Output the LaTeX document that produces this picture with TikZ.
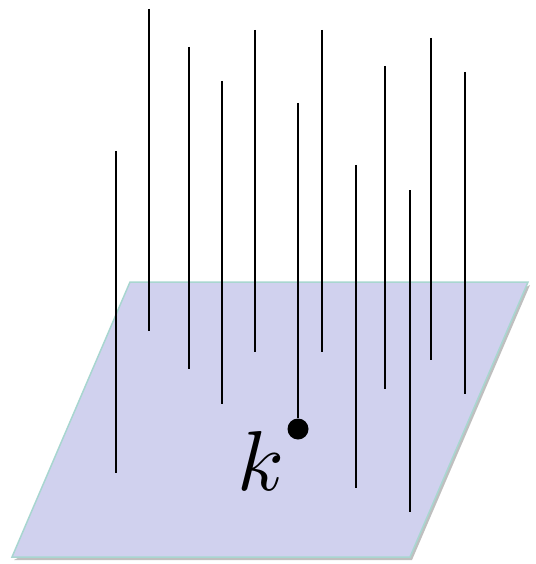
\documentclass[tikz,border=0pt]{standalone}
\usepackage{xcolor}
\usetikzlibrary{positioning, calc}
\definecolor{planefill}{RGB}{208,209,238}
\definecolor{planeedge}{RGB}{168,214,208}

\begin{document}
\begin{tikzpicture}[x=1pt, y=-1pt,
  fiber/.style={line width=1.6pt, black},
  plane/.style={fill=planefill, draw=planeedge, line width=1.5pt},
  pt/.style={circle, fill=black, inner sep=0pt, minimum size=21pt}]
  \useasboundingbox (0,0) rectangle (535,564);
  % the plane
  \coordinate (p1) at (130,282);
  \coordinate (p2) at (528,282);
  \coordinate (p3) at (410,557);
  \coordinate (p4) at (12,557);
  \fill[black!25] ($(p4)+(2,3)$) -- ($(p3)+(2,3)$) -- ($(p2)+(2,3)$) -- cycle;
  \draw[plane] (p1) -- (p2) -- (p3) -- (p4) -- cycle;
  % vertical fibers
  \foreach \i/\x/\t/\b in {1/116/151/473, 2/149/9/331, 3/189/47/369,
      4/222/81/404, 5/255/30/352, 7/322/30/352, 8/356/165/488,
      9/385/66/389, 10/410/190/512, 11/431/38/360, 12/465/72/394}{
    \coordinate (t\i) at (\x,\t);
    \coordinate (b\i) at (\x,\b);
    \draw[fiber] (t\i) -- (b\i);
  }
  % fiber through the point k
  \node[pt] (k) at (298,429) {};
  \coordinate (t6) at (298,103);
  \draw[fiber] (t6) -- (k);
  \node[scale=8.5] (klabel) at (261,461) {$k$};
\end{tikzpicture}
\end{document}
